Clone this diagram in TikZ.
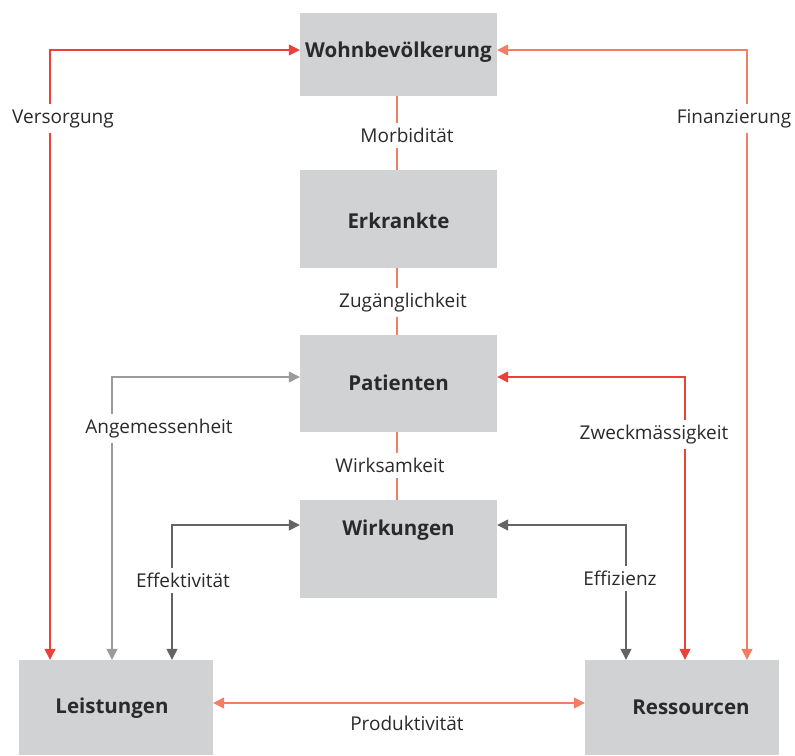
\documentclass[tikz,border=0pt]{standalone}
\usepackage{fontspec}
\setmainfont{Open Sans}
\usetikzlibrary{arrows.meta}
\definecolor{cred}{HTML}{E8423A}
\definecolor{csal}{HTML}{F07E62}
\definecolor{cpale}{HTML}{F07E62}
\definecolor{clgray}{HTML}{9B9B9B}
\definecolor{cdgray}{HTML}{646464}
\definecolor{cbox}{HTML}{D1D2D4}
\definecolor{ctext}{HTML}{2A2A2A}
\tikzset{
  box/.style={fill=cbox, draw=none, inner sep=0pt, text=ctext, font=\fontsize{20.5}{24}\selectfont\bfseries},
  lab/.style={fill=white, inner xsep=2pt, inner ysep=5pt, text=ctext, font=\fontsize{19}{22}\selectfont},
  conn/.style={line width=1.3pt, {Triangle[length=11pt,width=11pt]}-{Triangle[length=11pt,width=11pt]}},
  cline/.style={line width=1.1pt, cpale}
}
\begin{document}
\begin{tikzpicture}[x=1pt,y=-1pt]
\useasboundingbox (0,0) rectangle (795,755);
% boxes
\node[box, minimum width=197pt, minimum height=83pt] (wohn) at (398.5,54.5) {};
\node[box] at (398.5,52.5) {Wohnbevölkerung};
\node[box, minimum width=197pt, minimum height=98pt] (erk) at (398.5,219) {};
\node[box] at (398.5,220.5) {Erkrankte};
\node[box, minimum width=197pt, minimum height=97pt] (pat) at (398.5,383.5) {};
\node[box] at (398.5,383) {Patienten};
\node[box, minimum width=197pt, minimum height=98pt] (wirk) at (398.5,549) {};
\node[box] at (398.5,530) {Wirkungen};
\node[box, minimum width=194pt, minimum height=95pt] (lei) at (116,707.5) {};
\node[box] at (112,708) {Leistungen};
\node[box, minimum width=194pt, minimum height=95pt] (res) at (682,707.5) {};
\node[box] at (691,707) {Ressourcen};
% x positions
\coordinate (xa) at (50,0);
\coordinate (xb) at (112,0);
\coordinate (xc) at (172,0);
\coordinate (xd) at (626,0);
\coordinate (xe) at (685,0);
\coordinate (xf) at (747,0);
\coordinate (cx) at (397,0);
% center line
\draw[cline] (wohn.south -| cx) -- (erk.north -| cx);
\draw[cline] (erk.south -| cx) -- (pat.north -| cx);
\draw[cline] (pat.south -| cx) -- (wirk.north -| cx);
% connectors
\draw[conn, cred] (lei.north -| xa) |- ([yshift=4.5pt]wohn.west);
\draw[conn, csal] (res.north -| xf) |- ([yshift=4.5pt]wohn.east);
\draw[conn, clgray] (lei.north -| xb) |- ([yshift=6.5pt]pat.west);
\draw[conn, cred] (res.north -| xe) |- ([yshift=6.5pt]pat.east);
\draw[conn, cdgray] (lei.north -| xc) |- ([yshift=24pt]wirk.west);
\draw[conn, cdgray] (res.north -| xd) |- ([yshift=24pt]wirk.east);
\draw[conn, csal] ([yshift=4.5pt]lei.east) -- ([yshift=4.5pt]res.west);
% labels
\node[lab] at (63,118.5) {Versorgung};
\node[lab] at (734,118.5) {Finanzierung};
\node[lab] at (159,428.5) {Angemessenheit};
\node[lab] at (654,434.5) {Zweckmässigkeit};
\node[lab] at (183,580.5) {Effektivität};
\node[lab] at (620,578.5) {Effizienz};
\node[lab, fill=none] at (407,723.5) {Produktivität};
\node[lab] at (407,135.5) {Morbidität};
\node[lab] at (403,302.5) {Zugänglichkeit};
\node[lab] at (390,465.5) {Wirksamkeit};
\end{tikzpicture}
\end{document}
